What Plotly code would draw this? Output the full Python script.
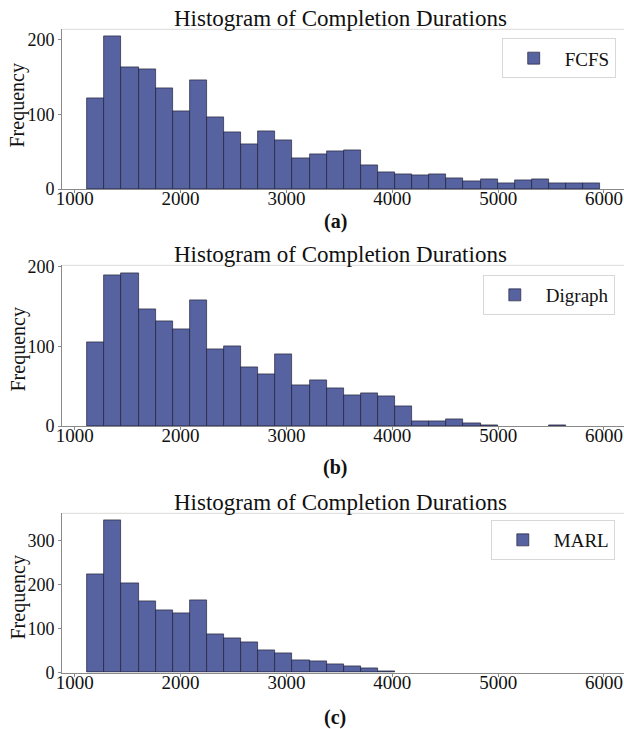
import numpy as np
import plotly.graph_objects as go

# ---- data ----
BIN_START = 1119.0
BIN_WIDTH = 161.5
N_BINS = 30

series_names = ["FCFS", "Digraph", "MARL"]
fcfs_counts = [121, 204, 163, 160, 135, 104, 146, 96, 76, 60, 77, 65, 41, 47, 51,
               52, 32, 22, 20, 19, 20, 15, 10, 13, 8, 12, 13, 8, 7, 8]
digraph_counts = [105, 189, 192, 146, 131, 121, 158, 96, 100, 74, 65, 90, 51, 57, 47,
                  39, 41, 37, 25, 6, 6, 9, 3, 1, 0, 0, 0, 1, 0, 0]
marl_counts = [224, 345, 202, 163, 141, 134, 164, 88, 78, 69, 52, 45, 28, 26, 19,
               15, 11, 3, 0, 0, 0, 0, 0, 0, 0, 0, 0, 0, 0, 0]
x_ticks = [1000, 2000, 3000, 4000, 5000, 6000]
y_ticks_ab = [0, 100, 200]
y_ticks_c = [0, 100, 200, 300]
panel_labels = ["(a)", "(b)", "(c)"]
title_text = "Histogram of Completion Durations"

# ---- layout geometry ----
W, H = 624, 729
FONT = "Liberation Serif, Times New Roman, serif"
BAR_COLOR = "#5762a0"
EDGE_COLOR = "rgba(25,25,45,0.8)"

def fy(px):
    return 1 - px / H

def fx(px):
    return px / W

tops = [29.3, 265.3, 513.3]
bottoms = [189.0, 426.0, 672.7]
y_max = [214.0, 201.6, 362.0]
title_mid = [18.0, 254.0, 502.0]
label_mid = [221.7, 467.0, 717.0]
ylab_mid = [106.0, 350.0, 598.0]
legend_top = [38.3, 275.0, 520.0]
legend_right = [615.7, 614.8, 614.8]

centers = BIN_START + BIN_WIDTH * (np.arange(N_BINS) + 0.5)
all_counts = [fcfs_counts, digraph_counts, marl_counts]

fig = go.Figure()
annotations = []
shapes = []
layout_axes = {}

for i, (name, counts) in enumerate(zip(series_names, all_counts)):
    sfx = "" if i == 0 else str(i + 1)
    xa, ya = "x" + sfx, "y" + sfx
    leg = "legend" + sfx
    fig.add_trace(go.Bar(
        x=centers, y=[c if c > 0 else None for c in counts],
        width=BIN_WIDTH, name=name,
        xaxis=xa, yaxis=ya, legend=leg,
        marker=dict(color=BAR_COLOR, line=dict(color=EDGE_COLOR, width=0.8)),
    ))
    dom_y = [fy(bottoms[i]), fy(tops[i])]
    layout_axes["xaxis" + sfx] = dict(
        domain=[fx(62), 1.0], range=[880, 6189], anchor=ya, automargin=False,
        tickvals=x_ticks, ticktext=[str(v) for v in x_ticks],
        showline=True, linecolor="#8a8a8a", linewidth=1,
        ticks="outside", ticklen=3, tickcolor="#8a8a8a",
        ticklabelstandoff=-11,
        showgrid=False, zeroline=False,
        tickfont=dict(family=FONT, size=19, color="#111"),
    )
    yt = y_ticks_c if i == 2 else y_ticks_ab
    layout_axes["yaxis" + sfx] = dict(
        domain=dom_y, range=[0, y_max[i]], anchor=xa, automargin=False,
        tickvals=yt, ticktext=[str(v) for v in yt],
        showline=True, linecolor="#8a8a8a", linewidth=1,
        ticks="outside", ticklen=3, tickcolor="#8a8a8a",
        showgrid=False, zeroline=False,
        tickfont=dict(family=FONT, size=18, color="#111"),
    )
    layout_axes[leg] = dict(
        x=fx(legend_right[i]), y=fy(legend_top[i]), xanchor="right", yanchor="top",
        bgcolor="white", bordercolor="#d8d8d8", borderwidth=1, itemwidth=52,
        font=dict(family=FONT, size=19, color="#111"),
    )
    # light top border of the axes box
    shapes.append(dict(type="line", xref=xa + " domain", yref=ya + " domain",
                       x0=0, x1=1, y0=1, y1=1,
                       line=dict(color="#dadada", width=1)))
    annotations.append(dict(text=title_text, x=fx(341), y=fy(title_mid[i]),
                            xref="paper", yref="paper", showarrow=False,
                            xanchor="center", yanchor="middle",
                            font=dict(family=FONT, size=23, color="#111")))
    annotations.append(dict(text="<b>" + panel_labels[i] + "</b>", x=fx(335),
                            y=fy(label_mid[i]), xref="paper", yref="paper",
                            showarrow=False, xanchor="center", yanchor="middle",
                            font=dict(family=FONT, size=20, color="#111")))
    annotations.append(dict(text="Frequency", x=fx(17.5), y=fy(ylab_mid[i]),
                            xref="paper", yref="paper", showarrow=False,
                            textangle=-90, xanchor="center", yanchor="middle",
                            font=dict(family=FONT, size=20, color="#111")))

fig.update_layout(
    template="none",
    width=W, height=H,
    margin=dict(l=0, r=0, t=0, b=0, autoexpand=False),
    paper_bgcolor="white", plot_bgcolor="white",
    showlegend=True, bargap=0,
    annotations=annotations, shapes=shapes,
    **layout_axes,
)

fig.write_html("out.html", config={"displayModeBar": False},
               post_script="document.body.style.margin='0';")
